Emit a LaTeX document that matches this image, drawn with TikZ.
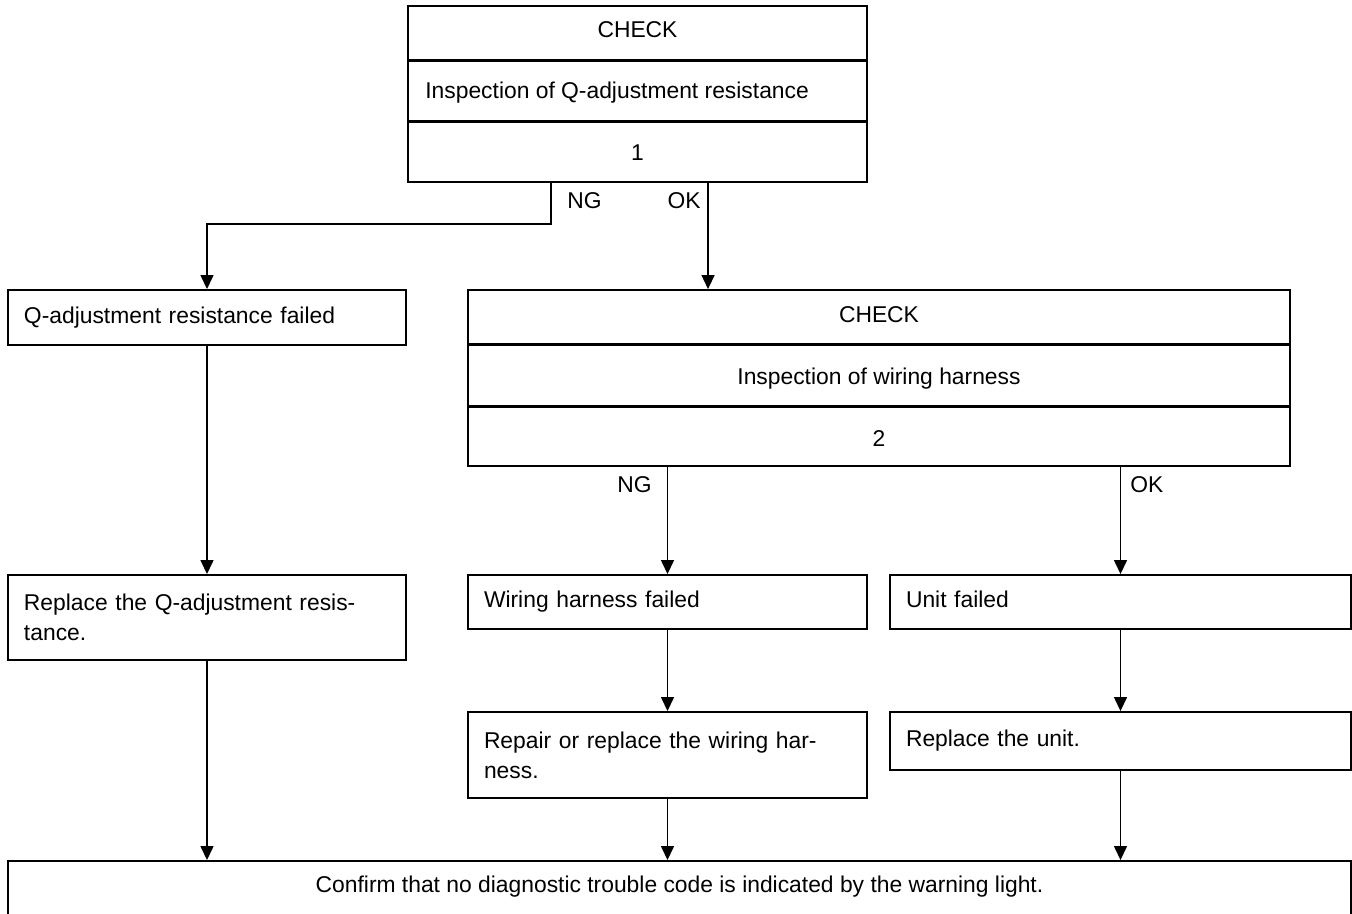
\documentclass[tikz,border=0pt]{standalone}
\usepackage{fontspec}
\setmainfont{Liberation Sans}
\usetikzlibrary{positioning,arrows.meta}

\begin{document}
\begin{tikzpicture}[
    font=\fontsize{13}{17}\selectfont,
    box/.style={draw, line width=1.1pt, inner xsep=0.32cm, inner ysep=0pt, align=left},
    sep/.style={line width=1.7pt},
    flow/.style={-{Triangle[length=0.28cm, width=0.26cm]}, line width=0.8pt},
    lbl/.style={inner sep=0pt}
]
    \useasboundingbox (0,0) rectangle (27.04,-18.26);

    % Check 1
    \node[box, minimum width=9.18cm, minimum height=3.52cm] (chk1) at (12.75,-1.88) {};
    \draw[sep] ([yshift=-1.1cm]chk1.north west) -- ([yshift=-1.1cm]chk1.north east);
    \draw[sep] ([yshift=-2.32cm]chk1.north west) -- ([yshift=-2.32cm]chk1.north east);
    \node[lbl, anchor=base] (chk1a) at (12.75,-0.74) {CHECK};
    \node[lbl, anchor=base west] (chk1b) at (8.50,-1.96) {Inspection of Q-adjustment resistance};
    \node[lbl, anchor=base] (chk1c) at (12.75,-3.20) {1};

    % Check 2
    \node[box, minimum width=16.44cm, minimum height=3.52cm] (chk2) at (17.58,-7.56) {};
    \draw[sep] ([yshift=-1.1cm]chk2.north west) -- ([yshift=-1.1cm]chk2.north east);
    \draw[sep] ([yshift=-2.34cm]chk2.north west) -- ([yshift=-2.34cm]chk2.north east);
    \node[lbl, anchor=base] (chk2a) at (17.58,-6.44) {CHECK};
    \node[lbl, anchor=base] (chk2b) at (17.58,-7.68) {Inspection of wiring harness};
    \node[lbl, anchor=base] (chk2c) at (17.58,-8.92) {2};

    % Result boxes
    \node[box, minimum width=7.96cm, text width=7.32cm, minimum height=1.10cm] (fail1) at (4.14,-6.35)
        {Q-adjustment resistance failed};
    \node[box, minimum width=7.96cm, text width=7.32cm, minimum height=1.70cm] (repl1) at (4.14,-12.35)
        {Replace the Q-adjustment resis-\\tance.};
    \node[box, minimum width=7.98cm, text width=7.34cm, minimum height=1.08cm] (wire) at (13.35,-12.04)
        {Wiring harness failed};
    \node[box, minimum width=9.22cm, text width=8.58cm, minimum height=1.08cm, text depth=0.1cm] (unit) at (22.41,-12.04)
        {Unit failed};
    \node[box, minimum width=7.98cm, text width=7.34cm, minimum height=1.72cm] (replw) at (13.35,-15.10)
        {Repair or replace the wiring har-\\ness.};
    \node[box, minimum width=9.22cm, text width=8.58cm, minimum height=1.16cm] (replu) at (22.41,-14.82)
        {Replace the unit.};
    \node[box, minimum width=26.86cm, minimum height=1.48cm, text depth=0.55cm, align=center] (conf) at (13.59,-17.96)
        {Confirm that no diagnostic trouble code is indicated by the warning light.};

    % Branch labels
    \node[lbl, anchor=base west] (ng1t) at (11.34,-4.16) {NG};
    \node[lbl, anchor=base east] (ok1t) at (14.02,-4.16) {OK};
    \node[lbl, anchor=base east] (ng2t) at (13.04,-9.84) {NG};
    \node[lbl, anchor=base west] (ok2t) at (22.60,-9.84) {OK};

    % Arrows
    \coordinate (ng1) at ([xshift=2.88cm]chk1.south west);
    \coordinate (ok1) at ([xshift=6.02cm]chk1.south west);
    \draw[flow] (ng1) -- ++(0,-0.82) -| (fail1.north);
    \draw[flow] (ok1) -- (ok1 |- chk2.north);
    \draw[flow] (fail1.south) -- (repl1.north);
    \draw[flow] (repl1.south) -- (repl1.south |- conf.north);
    \draw[flow] (wire.north |- chk2.south) -- (wire.north);
    \draw[flow] (unit.north |- chk2.south) -- (unit.north);
    \draw[flow] (wire.south) -- (replw.north);
    \draw[flow] (unit.south) -- (replu.north);
    \draw[flow] (replw.south) -- (replw.south |- conf.north);
    \draw[flow] (replu.south) -- (replu.south |- conf.north);

\end{tikzpicture}
\end{document}
